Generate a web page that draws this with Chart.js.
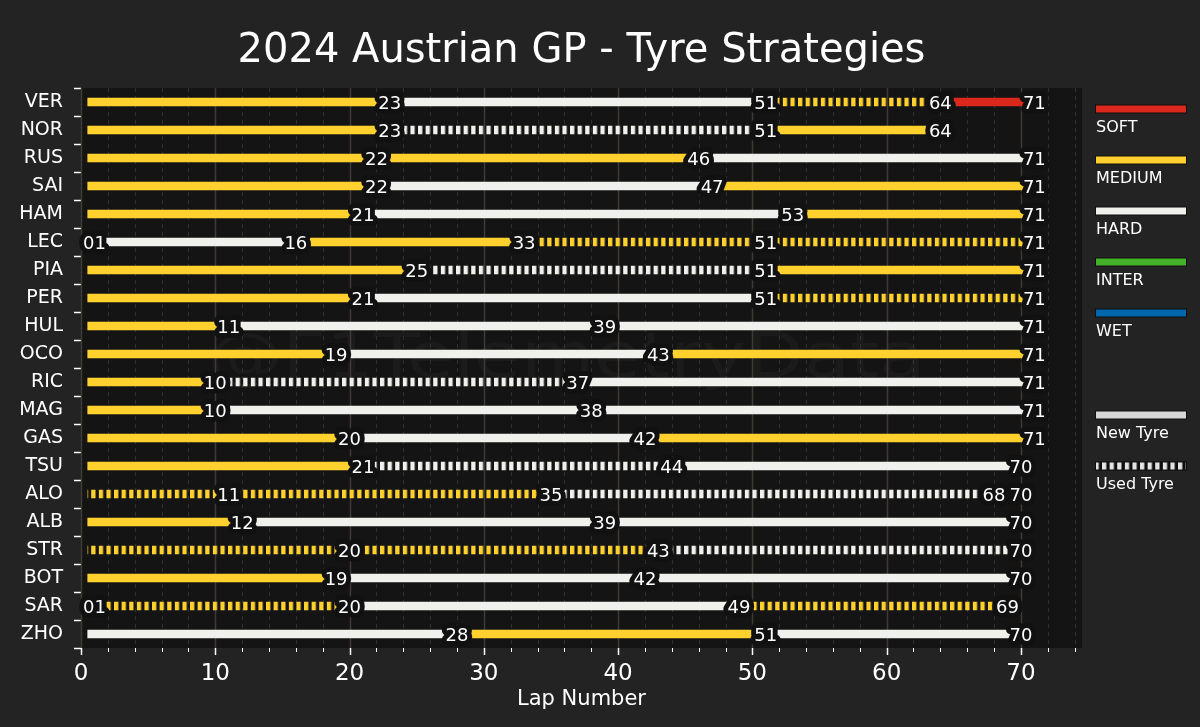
<!DOCTYPE html>
<html>
<head>
<meta charset="utf-8">
<script src="https://cdn.jsdelivr.net/npm/chart.js@4.4.1/dist/chart.umd.min.js"></script>
<style>
  html, body { margin: 0; padding: 0; background: #232323; }
  canvas { display: block; }
</style>
</head>
<body>
<canvas id="chart" width="1200" height="727"></canvas>
<script>
// Données de la course
const drivers = ['VER', 'NOR', 'RUS', 'SAI', 'HAM', 'LEC', 'PIA', 'PER', 'HUL', 'OCO',
                 'RIC', 'MAG', 'GAS', 'TSU', 'ALO', 'ALB', 'STR', 'BOT', 'SAR', 'ZHO'];

// dernier tour de chaque relais
const stintEnds = [
    [23, 51, 64, 71], [23, 51, 64], [22, 46, 71], [22, 47, 71], [21, 53, 71],
    [1, 16, 33, 51, 71], [25, 51, 71], [21, 51, 71], [11, 39, 71], [19, 43, 71],
    [10, 37, 71], [10, 38, 71], [20, 42, 71], [21, 44, 70], [11, 35, 68, 70],
    [12, 39, 70], [20, 43, 70], [19, 42, 70], [1, 20, 49, 69], [28, 51, 70]
];

const stintCompounds = [
    ['MEDIUM', 'HARD', 'MEDIUM', 'SOFT'], ['MEDIUM', 'HARD', 'MEDIUM'], ['MEDIUM', 'MEDIUM', 'HARD'],
    ['MEDIUM', 'HARD', 'MEDIUM'], ['MEDIUM', 'HARD', 'MEDIUM'], ['MEDIUM', 'HARD', 'MEDIUM', 'MEDIUM', 'MEDIUM'],
    ['MEDIUM', 'HARD', 'MEDIUM'], ['MEDIUM', 'HARD', 'MEDIUM'], ['MEDIUM', 'HARD', 'HARD'],
    ['MEDIUM', 'HARD', 'MEDIUM'], ['MEDIUM', 'HARD', 'HARD'], ['MEDIUM', 'HARD', 'HARD'],
    ['MEDIUM', 'HARD', 'MEDIUM'], ['MEDIUM', 'HARD', 'HARD'], ['MEDIUM', 'MEDIUM', 'HARD', 'HARD'],
    ['MEDIUM', 'HARD', 'HARD'], ['MEDIUM', 'MEDIUM', 'HARD'], ['MEDIUM', 'HARD', 'HARD'],
    ['MEDIUM', 'MEDIUM', 'HARD', 'MEDIUM'], ['HARD', 'MEDIUM', 'HARD']
];

// 1 = pneu usé
const stintUsed = [
    [0, 0, 1, 0], [0, 1, 0], [0, 0, 0], [0, 0, 0], [0, 0, 0],
    [0, 0, 0, 1, 1], [0, 1, 0], [0, 0, 1], [0, 0, 0], [0, 0, 0],
    [0, 1, 0], [0, 0, 0], [0, 0, 0], [0, 1, 0], [1, 1, 1, 1],
    [0, 0, 0], [1, 1, 1], [0, 0, 0], [0, 1, 0, 1], [0, 0, 0]
];

const firstLap = 0.5;
const maxLap = 74.55;
const xTicks = [0, 10, 20, 30, 40, 50, 60, 70];

const compounds = ['SOFT', 'MEDIUM', 'HARD', 'INTER', 'WET'];
const compoundColors = {
    SOFT: '#da291c', MEDIUM: '#ffd12e', HARD: '#f0f0ec', INTER: '#43b02a', WET: '#0067ad'
};
const ageLabels = ['New Tyre', 'Used Tyre'];

const titleText = '2024 Austrian GP - Tyre Strategies';
const xTitle = 'Lap Number';
const watermark = '@F1TelemetryData';
const FONT = '"DejaVu Sans", sans-serif';

const canvas = document.getElementById('chart');
const ctx = canvas.getContext('2d');

// motif rayé pour les pneus usés
function stripes(color) {
    let c = document.createElement('canvas');
    c.width = 8; c.height = 4;
    let g = c.getContext('2d');
    g.fillStyle = color;
    g.fillRect(0, 0, 4.5, 4);
    let p = ctx.createPattern(c, 'repeat');
    p.setTransform(new DOMMatrix([0.95, 0, 0, 1, 0, 0]));
    return p;
}
const usedPattern = {};
compounds.forEach(c => usedPattern[c] = stripes(compoundColors[c]));
const usedLegendPattern = stripes('#e4e4e4');

// un dataset par numéro de relais
const maxStints = Math.max(...stintEnds.map(s => s.length));
const datasets = [];
for (let k = 0; k < maxStints; k++) {
    datasets.push({
        data: drivers.map((d, i) => k < stintEnds[i].length
            ? [k === 0 ? firstLap : stintEnds[i][k - 1], stintEnds[i][k]] : null),
        backgroundColor: c => {
            let i = c.dataIndex;
            let comp = stintCompounds[i] && stintCompounds[i][k];
            if (!comp) return 'transparent';
            return stintUsed[i][k] ? usedPattern[comp] : compoundColors[comp];
        },
        barThickness: 8,
        grouped: false,
        borderWidth: 0
    });
}

const decor = {
    id: 'decor',
    beforeDraw(chart) {
        const { ctx, chartArea: a } = chart;
        ctx.save();
        ctx.fillStyle = '#232323';
        ctx.fillRect(0, 0, chart.width, chart.height);
        ctx.fillStyle = '#141414';
        ctx.fillRect(a.left, a.top, a.right - a.left, a.bottom - a.top);
        ctx.restore();
    },
    beforeDatasetsDraw(chart) {
        const { ctx, chartArea: a, scales: { x } } = chart;
        ctx.save();
        // filigrane
        ctx.font = '62px ' + FONT;
        ctx.fillStyle = 'rgba(255,255,255,0.03)';
        ctx.textAlign = 'center';
        ctx.textBaseline = 'alphabetic';
        let w = ctx.measureText(watermark).width;
        ctx.save();
        ctx.translate((a.left + a.right) / 2 - 15, 377);
        ctx.scale(718 / w, 1);
        ctx.fillText(watermark, 0, 0);
        ctx.restore();
        // grille
        for (let v = 0; v <= 74; v += 2) {
            let px = Math.round(x.getPixelForValue(v)) + 0.5;
            ctx.beginPath();
            if (v % 10 === 0) {
                ctx.setLineDash([]);
                ctx.strokeStyle = '#3d3a37';
                ctx.lineWidth = 1.5;
            } else {
                ctx.setLineDash([4, 4]);
                ctx.strokeStyle = '#303030';
                ctx.lineWidth = 1;
            }
            ctx.moveTo(px, a.top);
            ctx.lineTo(px, a.bottom);
            ctx.stroke();
        }
        ctx.restore();
    },
    afterDatasetsDraw(chart) {
        const { ctx, scales: { x, y } } = chart;
        ctx.save();
        ctx.font = '18px ' + FONT;
        ctx.textAlign = 'center';
        ctx.textBaseline = 'alphabetic';
        ctx.lineJoin = 'round';
        ctx.lineWidth = 10;
        ctx.strokeStyle = '#111111';
        ctx.fillStyle = '#ffffff';
        drivers.forEach((d, i) => {
            let py = y.getPixelForValue(i) + 6.5;
            let items = stintEnds[i].map(lap => [String(lap).padStart(2, '0'), x.getPixelForValue(lap)]);
            items.forEach(([t, px]) => ctx.strokeText(t, px, py));
            items.forEach(([t, px]) => ctx.fillText(t, px, py));
        });
        ctx.restore();
    },
    afterDraw(chart) {
        const { ctx, chartArea: a, scales: { x } } = chart;
        const cx = (a.left + a.right) / 2;
        ctx.save();
        // graduations de l'axe x
        ctx.strokeStyle = '#ffffff';
        for (let v = 0; v <= 74; v += 2) {
            let px = Math.round(x.getPixelForValue(v)) + 0.5;
            let major = v % 10 === 0;
            ctx.lineWidth = major ? 1.5 : 1;
            ctx.beginPath();
            ctx.moveTo(px, a.bottom);
            ctx.lineTo(px, a.bottom + (major ? 7 : 4));
            ctx.stroke();
        }
        ctx.fillStyle = '#ffffff';
        ctx.textAlign = 'center';
        ctx.textBaseline = 'alphabetic';
        ctx.font = '23px ' + FONT;
        xTicks.forEach(v => ctx.fillText(String(v), x.getPixelForValue(v), 680));
        ctx.font = '21px ' + FONT;
        ctx.fillText(xTitle, cx, 705);
        // titre
        ctx.font = '40px ' + FONT;
        ctx.fillText(titleText, cx, 62);
        // légende
        ctx.textAlign = 'left';
        ctx.font = '16px ' + FONT;
        const lx = 1096, lw = 90;
        const entries = compounds.map((c, i) => [c, compoundColors[c], 109 + 51 * i])
            .concat([[ageLabels[0], '#d6d6d6', 415], [ageLabels[1], usedLegendPattern, 466]]);
        entries.forEach(([label, fill, ly]) => {
            ctx.fillStyle = 'rgba(0,0,0,0.6)';
            ctx.fillRect(lx - 1, ly - 4.5, lw + 2, 9);
            ctx.fillStyle = fill;
            ctx.fillRect(lx, ly - 3.5, lw, 7);
            ctx.fillStyle = '#ffffff';
            ctx.fillText(label, lx, ly + 23);
        });
        ctx.restore();
    }
};

new Chart(ctx, {
    type: 'bar',
    data: { labels: drivers, datasets: datasets },
    options: {
        indexAxis: 'y',
        responsive: false,
        animation: false,
        layout: { padding: { top: 88, right: 118, left: 0, bottom: 0 } },
        plugins: {
            legend: { display: false },
            title: { display: false },
            tooltip: { enabled: false }
        },
        scales: {
            x: {
                type: 'linear',
                min: 0,
                max: maxLap,
                grid: { display: false, drawTicks: false },
                border: { display: false },
                ticks: { display: false },
                afterFit: s => { s.height = 79; }
            },
            y: {
                grid: { drawOnChartArea: false, tickLength: 7, tickColor: '#ffffff', tickWidth: 1.5 },
                border: { color: '#2a2a2a', width: 1 },
                ticks: { color: '#ffffff', font: { family: FONT, size: 19 }, padding: 11 },
                afterFit: s => { s.width = 81; }
            }
        }
    },
    plugins: [decor]
});
</script>
</body>
</html>
